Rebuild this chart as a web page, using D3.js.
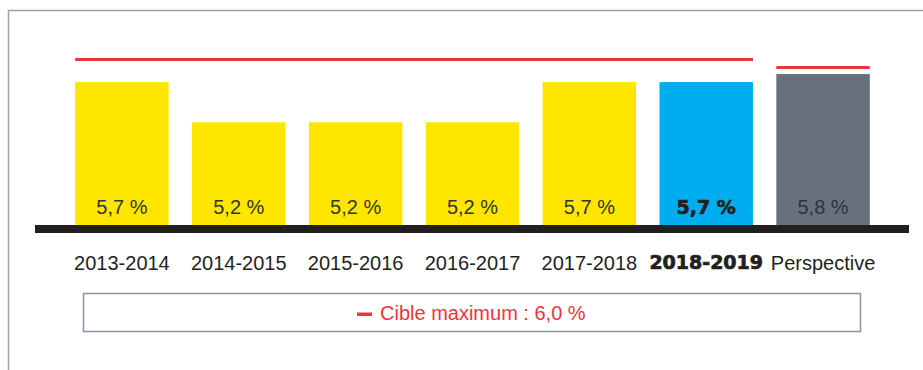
<!DOCTYPE html>
<html>
<head>
<meta charset="utf-8">
<script src="https://cdn.jsdelivr.net/npm/d3@7/dist/d3.min.js"></script>
<style>
  html, body { margin: 0; padding: 0; background: #fff; }
  svg { display: block; }
</style>
</head>
<body>
<svg id="chart" width="923" height="370"></svg>
<script>
// Taux par exercice (en %) et cible maximum associée
const categories = ["2013-2014", "2014-2015", "2015-2016", "2016-2017", "2017-2018", "2018-2019", "Perspective"];
const values = [5.7, 5.2, 5.2, 5.2, 5.7, 5.7, 5.8];
const valueLabels = ["5,7 %", "5,2 %", "5,2 %", "5,2 %", "5,7 %", "5,7 %", "5,8 %"];
const targets = [6.0, 6.0, 6.0, 6.0, 6.0, 6.0, 5.9];
const kinds = ["past", "past", "past", "past", "past", "current", "outlook"];
const legendLabel = "Cible maximum : 6,0 %";

const colors = { past: "#ffe600", current: "#00aeef", outlook: "#67717e" };
const red = "#ee3340";
const ink = "#231f20";
const fontFamily = "'Liberation Sans', Arial, Helvetica, sans-serif";
const boldFamily = "'DejaVu Sans', 'Liberation Sans', sans-serif";

const svg = d3.select("#chart");

// cadre
svg.append("path")
  .attr("d", "M8.5,370 V10.5 H923")
  .attr("fill", "none")
  .attr("stroke", "#9aa4b0")
  .attr("stroke-width", 1.5);

const x = d3.scaleBand()
  .domain(categories)
  .range([63.5, 881.5])
  .paddingInner(0.2)
  .paddingOuter(0.1);

const y = d3.scaleLinear()
  .domain([3.92, 6.0])
  .range([225, 58]);

const base = y(y.domain()[0]);

// barres
svg.append("g").selectAll("rect")
  .data(categories)
  .join("rect")
  .attr("x", d => x(d))
  .attr("width", x.bandwidth())
  .attr("y", (d, i) => y(values[i]))
  .attr("height", (d, i) => base - y(values[i]))
  .attr("fill", (d, i) => colors[kinds[i]]);

// lignes de cible : regroupées par valeurs consécutives identiques
const groups = [];
targets.forEach((t, i) => {
  const last = groups[groups.length - 1];
  if (last && last.value === t) last.end = i;
  else groups.push({ value: t, start: i, end: i });
});
svg.append("g").selectAll("line")
  .data(groups)
  .join("line")
  .attr("x1", g => x(categories[g.start]))
  .attr("x2", g => x(categories[g.end]) + x.bandwidth())
  .attr("y1", g => y(g.value) + 1.5)
  .attr("y2", g => y(g.value) + 1.5)
  .attr("stroke", red)
  .attr("stroke-width", 3);

// mise en forme commune : l'exercice courant est en gras appuyé
function styleLabel(sel) {
  sel.attr("font-family", (d, i) => kinds[i] === "current" ? boldFamily : fontFamily)
    .attr("font-weight", (d, i) => kinds[i] === "current" ? "bold" : "normal")
    .attr("font-size", (d, i) => kinds[i] === "current" ? 19 : 20)
    .attr("stroke", (d, i) => kinds[i] === "current" ? ink : "none")
    .attr("stroke-width", (d, i) => kinds[i] === "current" ? 0.7 : 0);
}

// étiquettes de valeur
svg.append("g").selectAll("text")
  .data(categories)
  .join("text")
  .attr("x", d => x(d) + x.bandwidth() / 2)
  .attr("y", 214)
  .attr("text-anchor", "middle")
  .attr("fill", (d, i) => kinds[i] === "current" ? ink : "#333")
  .text((d, i) => valueLabels[i])
  .call(styleLabel);

// ligne de base
svg.append("rect")
  .attr("x", 35)
  .attr("y", base)
  .attr("width", 909 - 35)
  .attr("height", 8)
  .attr("fill", ink);

// axe des catégories
const axis = svg.append("g")
  .attr("transform", `translate(0,${base + 8})`)
  .call(d3.axisBottom(x).tickSize(0).tickPadding(23));
axis.select(".domain").remove();
axis.selectAll("text")
  .attr("fill", ink)
  .call(styleLabel);

// légende
const legend = svg.append("g");
legend.append("rect")
  .attr("x", 83.5).attr("y", 293.5)
  .attr("width", 777).attr("height", 38)
  .attr("fill", "#fff")
  .attr("stroke", "#8a95a0")
  .attr("stroke-width", 1.5);
legend.append("rect")
  .attr("x", 357).attr("y", 312.5)
  .attr("width", 15).attr("height", 3.5)
  .attr("fill", red);
legend.append("text")
  .attr("x", 380).attr("y", 320)
  .attr("font-family", fontFamily)
  .attr("font-size", 20)
  .attr("fill", red)
  .text(legendLabel);
</script>
</body>
</html>
